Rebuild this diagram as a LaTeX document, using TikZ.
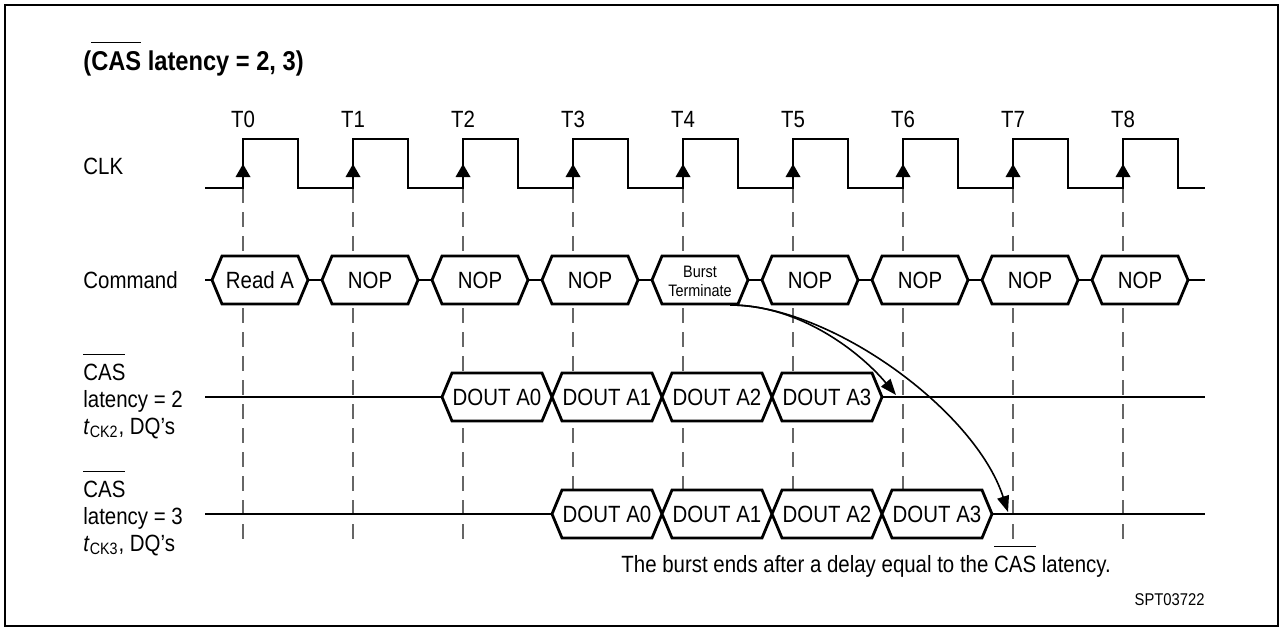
\documentclass[tikz,border=0pt]{standalone}
\usepackage{fontspec}
\setmainfont[FakeStretch=0.87]{Liberation Sans}
\usetikzlibrary{arrows.meta}
\newcommand\ovl[1]{\leavevmode\setbox0=\hbox{#1}\rlap{\raise\dimexpr\ht0+4.3pt\relax\hbox{\rule{\wd0}{0.6pt}}}\box0\relax}
\begin{document}
\begin{tikzpicture}[x=0.5pt,y=-0.5pt,
  sig/.style={line width=1.4pt, line join=miter},
  bus/.style={line width=1.4pt, fill=white, line join=miter},
  gridln/.style={black!60, line width=0.6pt, dash pattern=on 7.5pt off 4.5pt},
  lbl/.style={font=\fontsize{11.75pt}{14pt}\selectfont, inner sep=0pt},
  ttl/.style={font=\fontsize{13.6pt}{16pt}\selectfont\bfseries, inner sep=0pt},
  arr/.style={line width=0.8pt, -{Triangle[length=8pt,width=6pt]}},
  ]
\useasboundingbox (0,0) rectangle (1283,631);
\draw[line width=1pt] (5,5) rectangle (1278,626);

\node[ttl, anchor=base west] (title) at (83,71) {(\ovl{CAS} latency = 2, 3)};

% grid lines and clock labels
\foreach \k in {0,...,8} {
  \draw[gridln] ({243+110*\k},188) -- ({243+110*\k},541);
  \node[lbl, anchor=base] (T\k) at ({243+110*\k},127) {T\k};
}

% clock
\draw[sig] (205,188) \foreach \k in {0,...,8} { -- ({243+110*\k},188) -- ({243+110*\k},139) -- ({298+110*\k},139) -- ({298+110*\k},188) } -- (1205,188);
\foreach \k in {0,...,8} \fill ({243+110*\k},164) -- ({235.5+110*\k},177) -- ({250.5+110*\k},177) -- cycle;

% left labels
\node[lbl, anchor=base west] (clk) at (83,174) {CLK};
\node[lbl, anchor=base west] (cmd) at (83,288) {Command};
\node[lbl, anchor=base west] (cas2a) at (83,380) {\ovl{CAS}};
\node[lbl, anchor=base west] (cas2b) at (83,407) {latency = 2};
\node[lbl, anchor=base west] (cas2c) at (83,434) {\textit{t}\textsubscript{CK2}, DQ’s};
\node[lbl, anchor=base west] (cas3a) at (83,497) {\ovl{CAS}};
\node[lbl, anchor=base west] (cas3b) at (83,524) {latency = 3};
\node[lbl, anchor=base west] (cas3c) at (83,551) {\textit{t}\textsubscript{CK3}, DQ’s};

% command bus
\draw[sig] (205,280) -- (212,280);
\foreach \k in {0,...,7} \draw[sig] ({308+110*\k},280) -- ({322+110*\k},280);
\draw[sig] (1188,280) -- (1205,280);
\foreach \k in {0,...,8} \filldraw[bus] ({212+110*\k},280) -- ({222+110*\k},256) -- ({298+110*\k},256) -- ({308+110*\k},280) -- ({298+110*\k},304) -- ({222+110*\k},304) -- cycle;
\node[lbl] (c0) at (260,280) {Read A};
\node[lbl] (c1) at (370,280) {NOP};
\node[lbl] (c2) at (480,280) {NOP};
\node[lbl] (c3) at (590,280) {NOP};
\node[lbl, font=\fontsize{8.3pt}{9.5pt}\selectfont, align=center] (c4) at (700,281) {Burst\\Terminate};
\node[lbl] (c5) at (810,280) {NOP};
\node[lbl] (c6) at (920,280) {NOP};
\node[lbl] (c7) at (1030,280) {NOP};
\node[lbl] (c8) at (1140,280) {NOP};

% CAS latency 2 data
\draw[sig] (205,397) -- (442,397);
\draw[sig] (882,397) -- (1205,397);
\foreach \k in {0,...,3} {
  \filldraw[bus] ({442+110*\k},397) -- ({452+110*\k},373) -- ({542+110*\k},373) -- ({552+110*\k},397) -- ({542+110*\k},421) -- ({452+110*\k},421) -- cycle;
  \node[lbl] (p\k) at ({497+110*\k},397) {DOUT A\k};
}

% CAS latency 3 data
\draw[sig] (205,514) -- (552,514);
\draw[sig] (992,514) -- (1205,514);
\foreach \k in {0,...,3} {
  \filldraw[bus] ({552+110*\k},514) -- ({562+110*\k},490) -- ({652+110*\k},490) -- ({662+110*\k},514) -- ({652+110*\k},538) -- ({562+110*\k},538) -- cycle;
  \node[lbl] (q\k) at ({607+110*\k},514) {DOUT A\k};
}

% arrows
\coordinate (btout) at (730,305);
\coordinate (e2) at (896,395);
\coordinate (e3) at (1008,512);
\draw[arr] (btout) .. controls (800,305) and (860,352) .. (e2);
\draw[arr] (btout) .. controls (830,305) and (975,410) .. (e3);

\node[lbl, anchor=base west] (note) at (621,572) {The burst ends after a delay equal to the \ovl{CAS} latency.};
\node[lbl, font=\fontsize{8.5pt}{10pt}\selectfont, anchor=base east] (fig) at (1205,605) {SPT03722};
\end{tikzpicture}
\end{document}
